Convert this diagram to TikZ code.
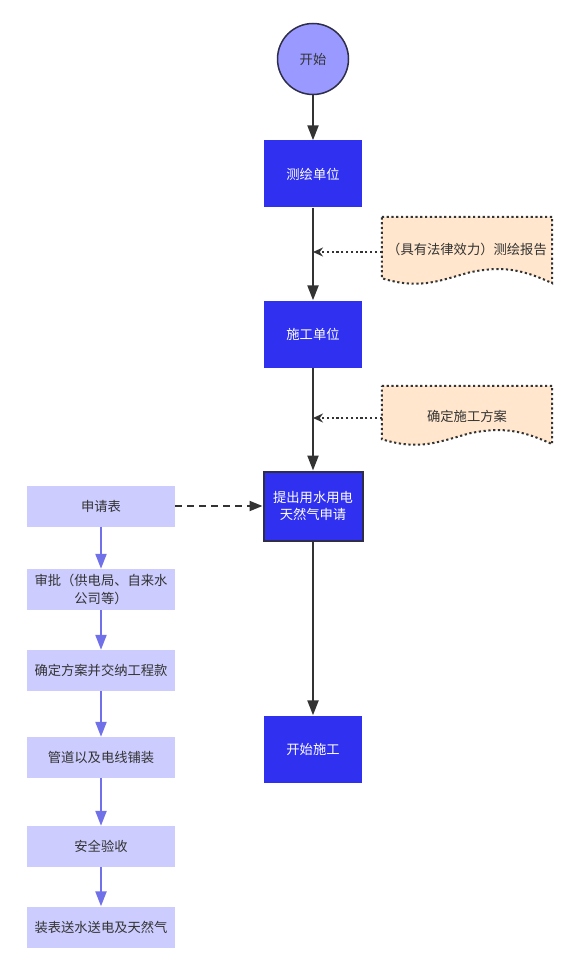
\documentclass[tikz,border=0pt]{standalone}
\usepackage{fontspec}
\setmainfont{Noto Sans CJK SC}
\usetikzlibrary{arrows.meta,calc}
\definecolor{circfill}{HTML}{9999FF}
\definecolor{circline}{HTML}{2E2E4A}
\definecolor{bluebox}{HTML}{3030F0}
\definecolor{darkline}{HTML}{333333}
\definecolor{lightbox}{HTML}{CCCCFF}
\definecolor{purp}{HTML}{7070E8}
\definecolor{docfill}{HTML}{FFE6CC}
\definecolor{txt}{HTML}{333333}
\tikzset{
  bluenode/.style={fill=bluebox, text=white, minimum width=98pt, minimum height=67pt, inner sep=2pt, align=center, font=\fontsize{13.3}{17}\selectfont},
  leftnode/.style={fill=lightbox, text=txt, minimum width=148pt, minimum height=41pt, inner sep=2pt, align=center, font=\fontsize{13.3}{18}\selectfont},
  docnode/.style={minimum width=170pt, inner sep=0pt, text=txt, font=\fontsize{13.3}{16}\selectfont},
  mainarrow/.style={draw=darkline, line width=2.2pt, -{Triangle[length=15pt,width=11pt]}},
  purparrow/.style={draw=purp, line width=2.2pt, -{Triangle[length=15pt,width=11pt]}},
  dotarrow/.style={draw=darkline, line width=2.2pt, dash pattern=on 2.2pt off 2.6pt, -{Stealth[length=10pt,width=9pt]}},
  dasharrow/.style={draw=darkline, line width=2pt, dash pattern=on 7pt off 5pt, -{Triangle[length=13pt,width=10pt]}},
  docline/.style={draw=darkline, line width=2pt, dash pattern=on 2.2pt off 2.6pt, fill=docfill},
}
\newcommand\docshape[1]{%
  \path[docline] (#1.north west) -- (#1.north east) -- ($(#1.south east)+(0,-2)$)
    .. controls ($(#1.south east)+(-32,-17)$) and ($(#1.south east)+(-52,-19)$) .. ($(#1.south east)+(-82,-13)$)
    .. controls ($(#1.south east)+(-112,-5)$) and ($(#1.south east)+(-132,5)$) .. ($(#1.south west)+(0,-7)$)
    -- cycle;}
\begin{document}
\begin{tikzpicture}[x=1pt,y=-1pt]
\useasboundingbox (0,0) rectangle (577,973);
\fill[white] (0,0) rectangle (577,973);

% main column
\node[circle, fill=circfill, draw=circline, line width=1.5pt, minimum size=71pt, text=txt, font=\fontsize{13.3}{16}\selectfont] (start) at (313,59) {开始};
\node[bluenode] (survey) at (313,174) {测绘单位};
\node[bluenode] (constr) at (313,334) {施工单位};
\node[bluenode, draw=circline, line width=2pt, minimum width=99pt, minimum height=69pt] (apply) at (313,506) {提出用水用电\\天然气申请};
\node[bluenode] (begin) at (313,749) {开始施工};

% documents
\node[docnode, minimum height=68pt] (doc1) at (467,251) {};
\docshape{doc1}
\node[text=txt, font=\fontsize{13.3}{16}\selectfont] (doc1t) at (467,249) {（具有法律效力）测绘报告};
\node[docnode, minimum height=60pt] (doc2) at (467,416) {};
\docshape{doc2}
\node[text=txt, font=\fontsize{13.3}{16}\selectfont] (doc2t) at (467,416) {确定施工方案};

\coordinate (j1) at (313,252);
\coordinate (j2) at (313,418);

% left column
\node[leftnode] (l1) at (101,506) {申请表};
\node[leftnode] (l2) at (101,589.5) {审批（供电局、自来水\\公司等）};
\node[leftnode] (l3) at (101,670.5) {确定方案并交纳工程款};
\node[leftnode] (l4) at (101,757.5) {管道以及电线铺装};
\node[leftnode] (l5) at (101,846.5) {安全验收};
\node[leftnode] (l6) at (101,927) {装表送水送电及天然气};

% connectors
\draw[mainarrow] (start) -- (survey);
\draw[mainarrow] (survey) -- (constr);
\draw[mainarrow] (constr) -- (apply);
\draw[mainarrow] (apply) -- (begin);
\draw[dotarrow] (doc1.west |- j1) -- (j1);
\draw[dotarrow] (doc2.west |- j2) -- (j2);
\draw[dasharrow] (l1.east) -- (l1.east -| apply.west);
\draw[purparrow] (l1) -- (l2);
\draw[purparrow] (l2) -- (l3);
\draw[purparrow] (l3) -- (l4);
\draw[purparrow] (l4) -- (l5);
\draw[purparrow] (l5) -- (l6);
\end{tikzpicture}
\end{document}
